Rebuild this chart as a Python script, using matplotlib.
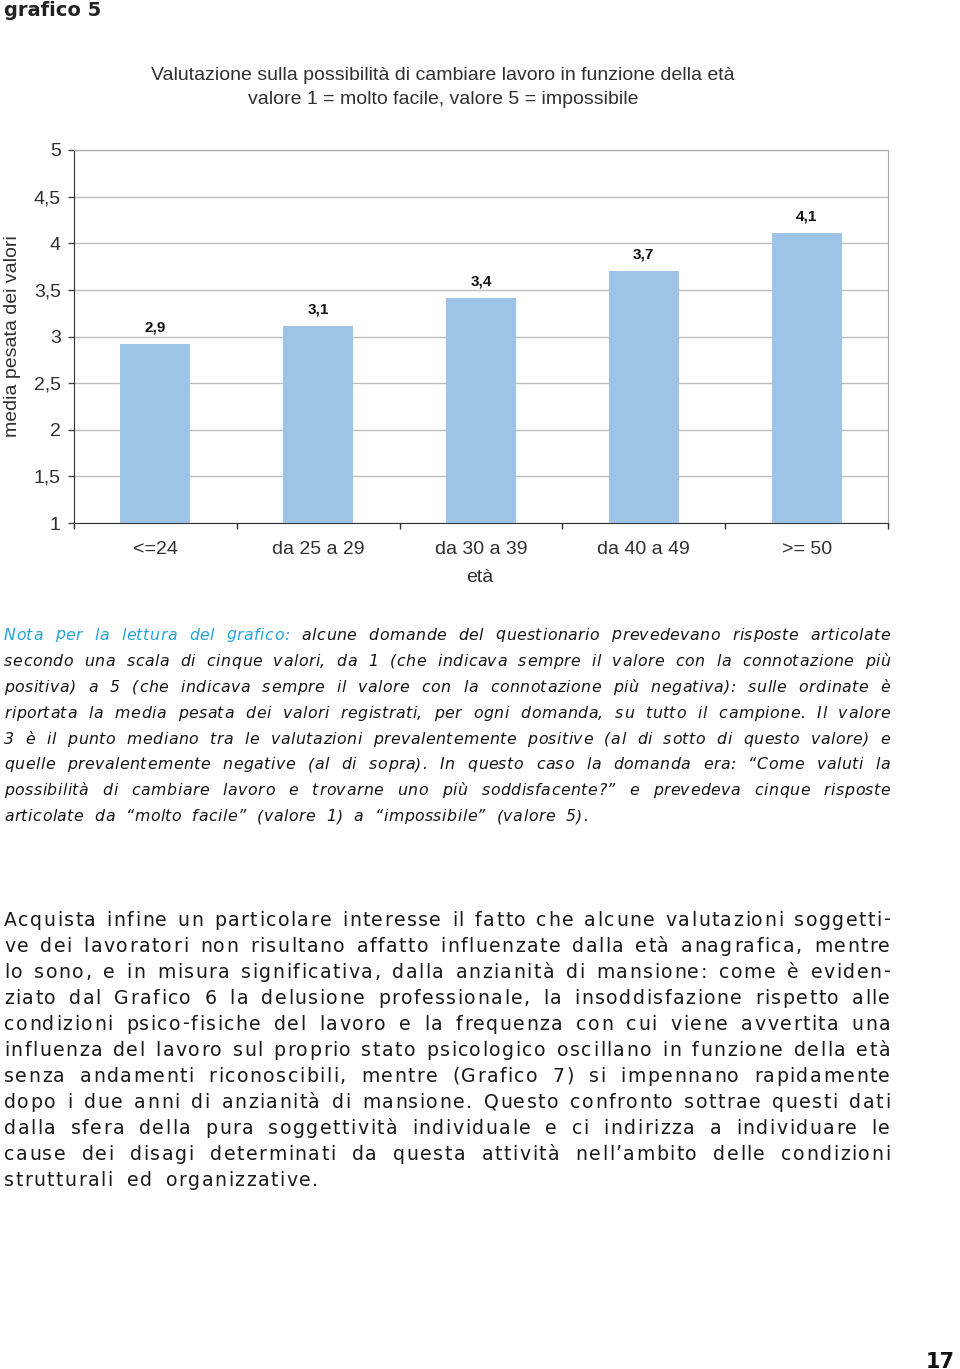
import numpy as np
import matplotlib
matplotlib.use('Agg')
from matplotlib import pyplot as plt
from matplotlib.font_manager import FontProperties, findfont
from matplotlib.ft2font import FT2Font

# chart data
categories = ['<=24', 'da 25 a 29', 'da 30 a 39', 'da 40 a 49', '>= 50']
values = [2.92, 3.11, 3.41, 3.70, 4.11]
value_labels = ['2,9', '3,1', '3,4', '3,7', '4,1']
y_ticks = [1, 1.5, 2, 2.5, 3, 3.5, 4, 4.5, 5]
y_tick_labels = ['1', '1,5', '2', '2,5', '3', '3,5', '4', '4,5', '5']

chart_title = ['Valutazione sulla possibilità di cambiare lavoro in funzione della età',
               'valore 1 = molto facile, valore 5 = impossibile']

# page text, one entry per printed line
nota_lines = [
    'Nota per la lettura del grafico: alcune domande del questionario prevedevano risposte articolate',
    'secondo una scala di cinque valori, da 1 (che indicava sempre il valore con la connotazione più',
    'positiva) a 5 (che indicava sempre il valore con la connotazione più negativa): sulle ordinate è',
    'riportata la media pesata dei valori registrati, per ogni domanda, su tutto il campione. Il valore',
    '3 è il punto mediano tra le valutazioni prevalentemente positive (al di sotto di questo valore) e',
    'quelle prevalentemente negative (al di sopra). In questo caso la domanda era: “Come valuti la',
    'possibilità di cambiare lavoro e trovarne uno più soddisfacente?” e prevedeva cinque risposte',
    'articolate da “molto facile” (valore 1) a “impossibile” (valore 5).',
]
body_lines = [
    'Acquista infine un particolare interesse il fatto che alcune valutazioni soggetti-',
    've dei lavoratori non risultano affatto influenzate dalla età anagrafica, mentre',
    'lo sono, e in misura significativa, dalla anzianità di mansione: come è eviden-',
    'ziato dal Grafico 6 la delusione professionale, la insoddisfazione rispetto alle',
    'condizioni psico-fisiche del lavoro e la frequenza con cui viene avvertita una',
    'influenza del lavoro sul proprio stato psicologico oscillano in funzione della età',
    'senza andamenti riconoscibili, mentre (Grafico 7) si impennano rapidamente',
    'dopo i due anni di anzianità di mansione. Questo confronto sottrae questi dati',
    'dalla sfera della pura soggettività individuale e ci indirizza  a individuare le',
    'cause dei disagi determinati da questa attività nell’ambito delle condizioni',
    'strutturali ed organizzative.',
]

W, H = 960, 1369
DPI = 100
fig = plt.figure(figsize=(W / DPI, H / DPI), dpi=DPI)
fig.patch.set_facecolor('white')


def fy(py):
    return 1 - py / H


def fx(px):
    return px / W


chart_font = 'Liberation Sans'
grey_txt = '#303030'

# heading
fig.text(fx(4), fy(10), 'grafico 5', fontsize=14, fontweight='bold',
         color='#222222', va='center', ha='left', family='DejaVu Sans')

# chart
ax_l, ax_r, ax_t, ax_b = 74, 888, 150, 523
ax = fig.add_axes([fx(ax_l), fy(ax_b), fx(ax_r) - fx(ax_l), fy(ax_t) - fy(ax_b)])
x = np.arange(len(categories))
bars = ax.bar(x, values, width=0.43, color='#9DC3E6', zorder=3)
ax.set_xlim(-0.5, len(categories) - 0.5)
ax.set_ylim(1, 5)
for b, lab in zip(bars, value_labels):
    ax.text(b.get_x() + b.get_width() / 2, b.get_height() + 0.1, lab,
            ha='center', va='bottom', fontsize=11, fontweight='bold',
            family=chart_font, color='#111111')

ax.set_yticks(y_ticks)
ax.set_yticklabels(y_tick_labels, family=chart_font, fontsize=14, color=grey_txt)
ax.yaxis.grid(True, color='#BDBDBD', lw=1, zorder=0)
ax.tick_params(axis='y', length=4.5, width=1, color='#444444', pad=5)

ax.set_xticks(np.arange(len(categories) + 1) - 0.5)
ax.set_xticklabels([])
ax.set_xticks(x, minor=True)
ax.set_xticklabels(categories, minor=True, family=chart_font, fontsize=14, color=grey_txt)
ax.tick_params(axis='x', which='major', length=4.5, width=1, color='#333333', direction='out')
ax.tick_params(axis='x', which='minor', length=0, pad=13)

ax.spines['left'].set_color('#333333')
ax.spines['bottom'].set_color('#333333')
ax.spines['top'].set_color('#A8A8A8')
ax.spines['right'].set_color('#A8A8A8')

ax.set_ylabel('media pesata dei valori', family=chart_font, fontsize=14, color=grey_txt)
ax.yaxis.set_label_coords((21 - ax_l) / (ax_r - ax_l), 0.5)

fig.text(fx(480), fy(578), 'età', ha='center', va='center', family=chart_font,
         fontsize=14, color=grey_txt)
fig.text(fx(443), fy(75), chart_title[0], ha='center', va='center',
         family=chart_font, fontsize=14, color=grey_txt)
fig.text(fx(443), fy(99), chart_title[1], ha='center', va='center',
         family=chart_font, fontsize=14, color=grey_txt)

# justified, letter-spaced text blocks (drawn glyph by glyph)
_fonts = {}


def advance(ch, size, style):
    key = (size, style)
    if key not in _fonts:
        path = findfont(FontProperties(family='DejaVu Sans', style=style))
        f = FT2Font(path)
        f.set_size(size, DPI)
        _fonts[key] = (f, {})
    f, cache = _fonts[key]
    if ch not in cache:
        g = f.load_char(ord(ch))
        cache[ch] = g.linearHoriAdvance / 65536.0
    return cache[ch]


def word_width(w, size, style, track):
    return sum(advance(c, size, style) for c in w) + track * (len(w) - 1)


def draw_line(words, colors, y, left, right, size, style, track, justify, extra=0.0):
    widths = [word_width(w, size, style, track) for w in words]
    if justify and len(words) > 1:
        gap = (right - left - sum(widths)) / (len(words) - 1)
    else:
        gap = advance(' ', size, style) + 2 * track + extra
    pos = left
    for w, c, wd in zip(words, colors, widths):
        cx = pos
        for ch in w:
            fig.text(fx(cx), fy(y), ch, fontsize=size, style=style, color=c,
                     family='DejaVu Sans', va='center', ha='left')
            cx += advance(ch, size, style) + track
        pos += wd + gap


blue = '#24A5D8'
dark = '#141414'
for i, line in enumerate(nota_lines):
    words = line.split(' ')
    colors = [dark] * len(words)
    if i == 0:
        colors[:6] = [blue] * 6
    draw_line(words, colors, 635 + 26 * i, 4, 890, 11.3, 'italic', 0.5,
              i < len(nota_lines) - 1, extra=5.0)

for i, line in enumerate(body_lines):
    words = [w for w in line.split(' ') if w]
    draw_line(words, ['#1A1A1A'] * len(words), 920 + 26 * i, 4, 890, 13.6, 'normal', 1.5,
              i < len(body_lines) - 1, extra=5.0)

fig.text(fx(926), fy(1352), '17', fontsize=15, fontweight='bold', color='#111111',
         ha='left', va='top', family='DejaVu Sans')

fig.savefig('out.png', dpi=DPI)
